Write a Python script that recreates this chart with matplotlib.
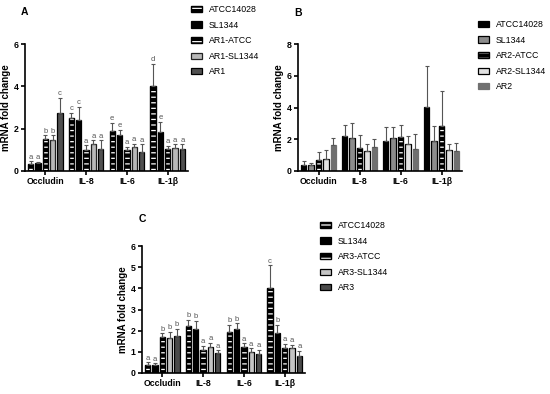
import numpy as np
import matplotlib.pyplot as plt
from matplotlib.patches import Patch

plt.rcParams['font.family'] = ['Liberation Sans', 'DejaVu Sans']
plt.rcParams['hatch.linewidth'] = 0.9

genes = ['Occludin', 'IL-8', 'IL-6', 'IL-1β']

# panel A
names_a = ['ATCC14028', 'SL1344', 'AR1-ATCC', 'AR1-SL1344', 'AR1']
mean_a = [[0.35, 2.52, 1.87, 4.02],
          [0.37, 2.39, 1.72, 1.84],
          [1.51, 0.98, 0.98, 1.02],
          [1.45, 1.29, 1.13, 1.10],
          [2.76, 1.02, 0.90, 1.02]]
err_a = [[0.10, 0.24, 0.40, 1.05],
         [0.05, 0.63, 0.23, 0.47],
         [0.17, 0.23, 0.15, 0.16],
         [0.23, 0.16, 0.16, 0.16],
         [0.70, 0.43, 0.36, 0.24]]
let_a = [['a', 'c', 'e', 'd'],
         ['a', 'c', 'e', 'e'],
         ['b', 'a', 'a', 'a'],
         ['b', 'a', 'a', 'a'],
         ['c', 'a', 'a', 'a']]

# panel B
names_b = ['ATCC14028', 'SL1344', 'AR2-ATCC', 'AR2-SL1344', 'AR2']
mean_b = [[0.40, 2.20, 1.91, 4.01],
          [0.40, 2.06, 2.06, 1.87],
          [0.67, 1.47, 2.14, 2.82],
          [0.74, 1.28, 1.72, 1.34],
          [1.66, 1.53, 1.41, 1.24]]
err_b = [[0.23, 0.72, 0.86, 2.59],
         [0.13, 0.97, 0.71, 0.97],
         [0.53, 0.78, 0.78, 2.20],
         [0.56, 0.40, 0.46, 0.34],
         [0.42, 0.47, 0.94, 0.52]]

# panel C
names_c = ['ATCC14028', 'SL1344', 'AR3-ATCC', 'AR3-SL1344', 'AR3']
mean_c = [[0.38, 2.21, 1.92, 4.00],
          [0.38, 2.06, 2.06, 1.87],
          [1.70, 1.10, 1.22, 1.16],
          [1.66, 1.24, 0.99, 1.18],
          [1.73, 0.94, 0.91, 0.80]]
err_c = [[0.12, 0.29, 0.34, 1.09],
         [0.08, 0.39, 0.28, 0.39],
         [0.17, 0.17, 0.18, 0.21],
         [0.29, 0.19, 0.17, 0.14],
         [0.37, 0.13, 0.17, 0.25]]
let_c = [['a', 'b', 'b', 'c'],
         ['a', 'b', 'b', 'b'],
         ['b', 'a', 'a', 'a'],
         ['b', 'a', 'a', 'a'],
         ['b', 'a', 'a', 'a']]

# (face, hatch, edge)
sty_a = [('black', '---', 'black'), ('black', None, 'black'), ('black', '---', 'black'),
         ('#b8b8b8', None, '#222222'), ('#505050', None, 'black')]
sty_b = [('black', None, 'black'), ('#8c8c8c', None, 'black'), ('black', '---', 'black'),
         ('#e2e2e2', None, 'black'), ('#707070', None, '#707070')]
sty_c = [('black', '---', 'black'), ('black', None, 'black'), ('black', '---', 'black'),
         ('#c4c4c4', None, 'black'), ('#4a4a4a', None, 'black')]

W, H = 550, 394
fig = plt.figure(figsize=(W / 100, H / 100), dpi=100)


def panel(rect, tag, tag_xy, names, means, errs, letters, styles, ymax, ystep, leg_xy):
    ax = fig.add_axes([rect[0] / W, 1 - rect[3] / H, (rect[2] - rect[0]) / W, (rect[3] - rect[1]) / H])
    x = np.arange(len(genes))
    handles = []
    for i in range(len(names)):
        face, hatch, edge = styles[i]
        m = np.array(means[i])
        e = np.array(errs[i])
        pos = x + (i - 2) * 0.18
        if hatch:
            ax.bar(pos, m, 0.13, color=face, edgecolor='white', hatch=hatch, linewidth=0)
            ax.bar(pos, m, 0.13, fill=False, edgecolor=edge, linewidth=1.0)
            h = (Patch(facecolor=face, edgecolor='white', hatch=hatch, linewidth=0),
                 Patch(fill=False, edgecolor=edge, linewidth=1.0))
        else:
            ax.bar(pos, m, 0.13, color=face, edgecolor=edge, linewidth=0.9)
            h = Patch(facecolor=face, edgecolor=edge, linewidth=0.9)
        handles.append(h)
        ax.errorbar(pos, m, yerr=[np.zeros(len(e)), e], fmt='none', ecolor='#555555',
                    elinewidth=0.8, capsize=1.5, capthick=0.8)
        if letters:
            for p, top, t in zip(pos, m + e, letters[i]):
                ax.annotate(t, (p, top), xytext=(0, 0.5), textcoords='offset points',
                            ha='center', va='bottom', fontsize=5.5, color='#555555')
    ax.set_xlim(-0.5, 3.5)
    ax.set_ylim(0, ymax)
    ax.set_yticks(np.arange(0, ymax + 0.01, ystep))
    ax.set_xticks(x)
    ax.set_xticklabels(genes, fontweight='bold', fontsize=6.3)
    for lb in ax.get_yticklabels():
        lb.set_fontweight('bold')
        lb.set_fontsize(6.3)
    ax.spines['top'].set_visible(False)
    ax.spines['right'].set_visible(False)
    ax.spines['left'].set_linewidth(1.2)
    ax.spines['bottom'].set_linewidth(1.2)
    ax.tick_params(width=1.2, length=3, pad=1.5)
    ax.set_ylabel('mRNA fold change', fontweight='bold', fontsize=7, labelpad=2)
    fig.text(tag_xy[0] / W, 1 - tag_xy[1] / H, tag, ha='center', va='center',
             fontweight='bold', fontsize=7.5)
    fig.legend(handles, names, loc='upper left', bbox_to_anchor=(leg_xy[0] / W, 1 - leg_xy[1] / H),
               frameon=False, fontsize=6.3, handlelength=1.25, handleheight=0.7,
               handletextpad=0.8, labelspacing=0.75, borderpad=0, borderaxespad=0)
    return ax


panel((25, 44, 188, 171), 'A', (24, 12), names_a, mean_a, err_a, let_a, sty_a, 6, 2, (191, 5))
panel((298, 44, 462, 171), 'B', (298, 13), names_b, mean_b, err_b, None, sty_b, 8, 2, (478, 20))
panel((142, 246, 305, 373), 'C', (142, 219), names_c, mean_c, err_c, let_c, sty_c, 6, 1, (320, 221))

fig.savefig('out.png', dpi=100, facecolor='white')
